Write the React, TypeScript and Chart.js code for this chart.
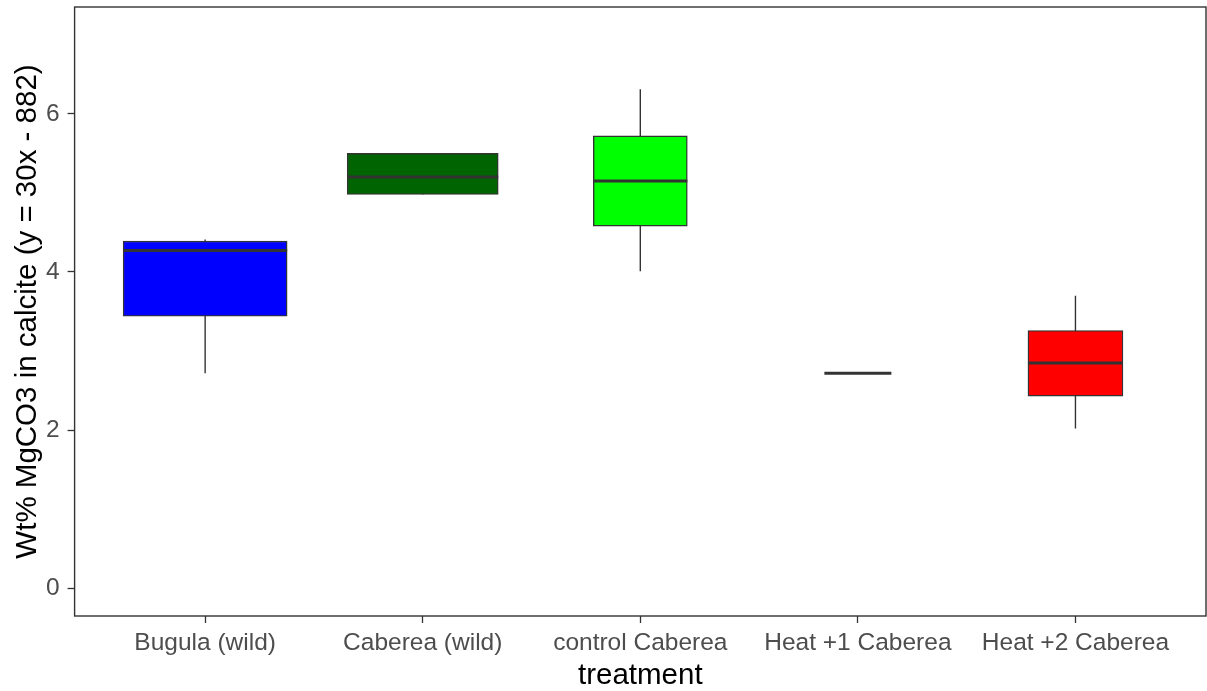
import React, { useEffect, useRef } from "react";
import { Chart, registerables } from "chart.js";

Chart.register(...registerables);

const categories = ["Bugula (wild)", "Caberea (wild)", "control Caberea", "Heat +1 Caberea", "Heat +2 Caberea"];
const whiskerLow = [2.72, 4.98, 4.01, 2.72, 2.02];
const q1 = [3.44, 4.98, 4.58, 2.72, 2.43];
const median = [4.27, 5.2, 5.15, 2.72, 2.85];
const q3 = [4.39, 5.5, 5.72, 2.72, 3.26];
const whiskerHigh = [4.41, 5.5, 6.31, 2.72, 3.7];
const yTicks = [0, 2, 4, 6];
const yTitle = "Wt% MgCO3 in calcite (y = 30x - 882)";
const xTitle = "treatment";

// styles
const fillColors = ["#0000FF", "#006400", "#00FF00", "#FFA500", "#FF0000"];
const boxWidthsPx = [164, 151, 94, 67, 95];
const FONT = "'Liberation Sans', Arial, Helvetica, sans-serif";
const DARK = "#333333";
const TICK_TEXT = "#4D4D4D";

const panelBorder = {
  id: "panelBorder",
  afterDatasetsDraw(chart: any) {
    const { ctx, chartArea } = chart;
    const { left, top, right, bottom } = chartArea;
    ctx.save();
    ctx.strokeStyle = DARK;
    ctx.lineWidth = 1.4;
    ctx.strokeRect(left, top, right - left, bottom - top);
    ctx.restore();
  },
};

export default function App() {
  const ref = useRef<HTMLCanvasElement>(null);

  useEffect(() => {
    document.body.style.margin = "0";
    const whiskerData: any[] = [];
    categories.forEach((_, i) => {
      whiskerData.push({ x: i + 1, y: whiskerLow[i] });
      whiskerData.push({ x: i + 1, y: whiskerHigh[i] });
      whiskerData.push({ x: i + 1, y: null });
    });

    const boxDatasets = categories.map((c, i) => ({
      type: "bar" as const,
      label: c,
      data: [{ x: i + 1, y: [q1[i], q3[i]] }],
      backgroundColor: fillColors[i],
      borderColor: DARK,
      borderWidth: 1.4,
      borderSkipped: false,
      grouped: false,
      barPercentage: 1,
      categoryPercentage: 1,
      maxBarThickness: boxWidthsPx[i],
      order: 2,
    }));

    const chart = new Chart(ref.current!, {
      type: "bar",
      data: {
        datasets: [
          {
            type: "line",
            label: "whiskers",
            data: whiskerData,
            borderColor: DARK,
            borderWidth: 1.4,
            pointRadius: 0,
            spanGaps: false,
            order: 3,
          } as any,
          ...(boxDatasets as any[]),
          {
            type: "line",
            label: "median",
            data: categories.map((_, i) => ({ x: i + 1, y: median[i] })),
            showLine: false,
            pointStyle: "line",
            pointRadius: boxWidthsPx.map((w) => w / 2),
            pointHoverRadius: boxWidthsPx.map((w) => w / 2),
            pointBorderColor: DARK,
            pointBackgroundColor: DARK,
            pointBorderWidth: 3,
            pointHoverBorderWidth: 3,
            order: 1,
          } as any,
        ],
      },
      options: {
        animation: false,
        responsive: false,
        devicePixelRatio: 1,
        events: [],
        layout: { autoPadding: false, padding: { top: 7, right: 1, left: 0, bottom: 0 } },
        plugins: { legend: { display: false }, tooltip: { enabled: false } },
        scales: {
          x: {
            type: "linear",
            offset: false,
            min: 0.4,
            max: 5.6,
            afterBuildTicks: (s: any) => {
              s.ticks = categories.map((_, i) => ({ value: i + 1 }));
            },
            afterFit: (s: any) => {
              s.height = 75;
              s.paddingLeft = 0;
              s.paddingRight = 0;
            },
            ticks: {
              callback: (v: any) => categories[Math.round(Number(v)) - 1] ?? "",
              color: TICK_TEXT,
              font: { family: FONT, size: 24.5 },
              padding: 6,
              maxRotation: 0,
              autoSkip: false,
            },
            grid: {
              display: true,
              offset: false,
              drawOnChartArea: false,
              drawTicks: true,
              tickLength: 7,
              tickColor: DARK,
              tickWidth: 1.3,
            },
            border: { display: false },
            title: {
              display: true,
              text: xTitle,
              color: "#000000",
              font: { family: FONT, size: 29.5, lineHeight: 1 },
              padding: 0,
            },
          },
          y: {
            type: "linear",
            min: -0.35,
            max: 7.35,
            afterBuildTicks: (s: any) => {
              s.ticks = yTicks.map((v) => ({ value: v }));
            },
            afterFit: (s: any) => {
              s.width = 74.6;
              s.paddingTop = 0;
              s.paddingBottom = 0;
            },
            ticks: {
              callback: (v: any) => String(v),
              color: TICK_TEXT,
              font: { family: FONT, size: 24.5 },
              padding: 8,
            },
            grid: {
              display: true,
              drawOnChartArea: false,
              drawTicks: true,
              tickLength: 7,
              tickColor: DARK,
              tickWidth: 1.3,
            },
            border: { display: false },
            title: {
              display: true,
              text: yTitle,
              color: "#000000",
              font: { family: FONT, size: 29.5, lineHeight: 1 },
              padding: 13,
            },
          },
        },
      } as any,
      plugins: [panelBorder],
    });
    return () => chart.destroy();
  }, []);

  return (
    <div style={{ width: 1207, height: 691 }}>
      <canvas ref={ref} width={1207} height={691} style={{ display: "block" }} />
    </div>
  );
}
